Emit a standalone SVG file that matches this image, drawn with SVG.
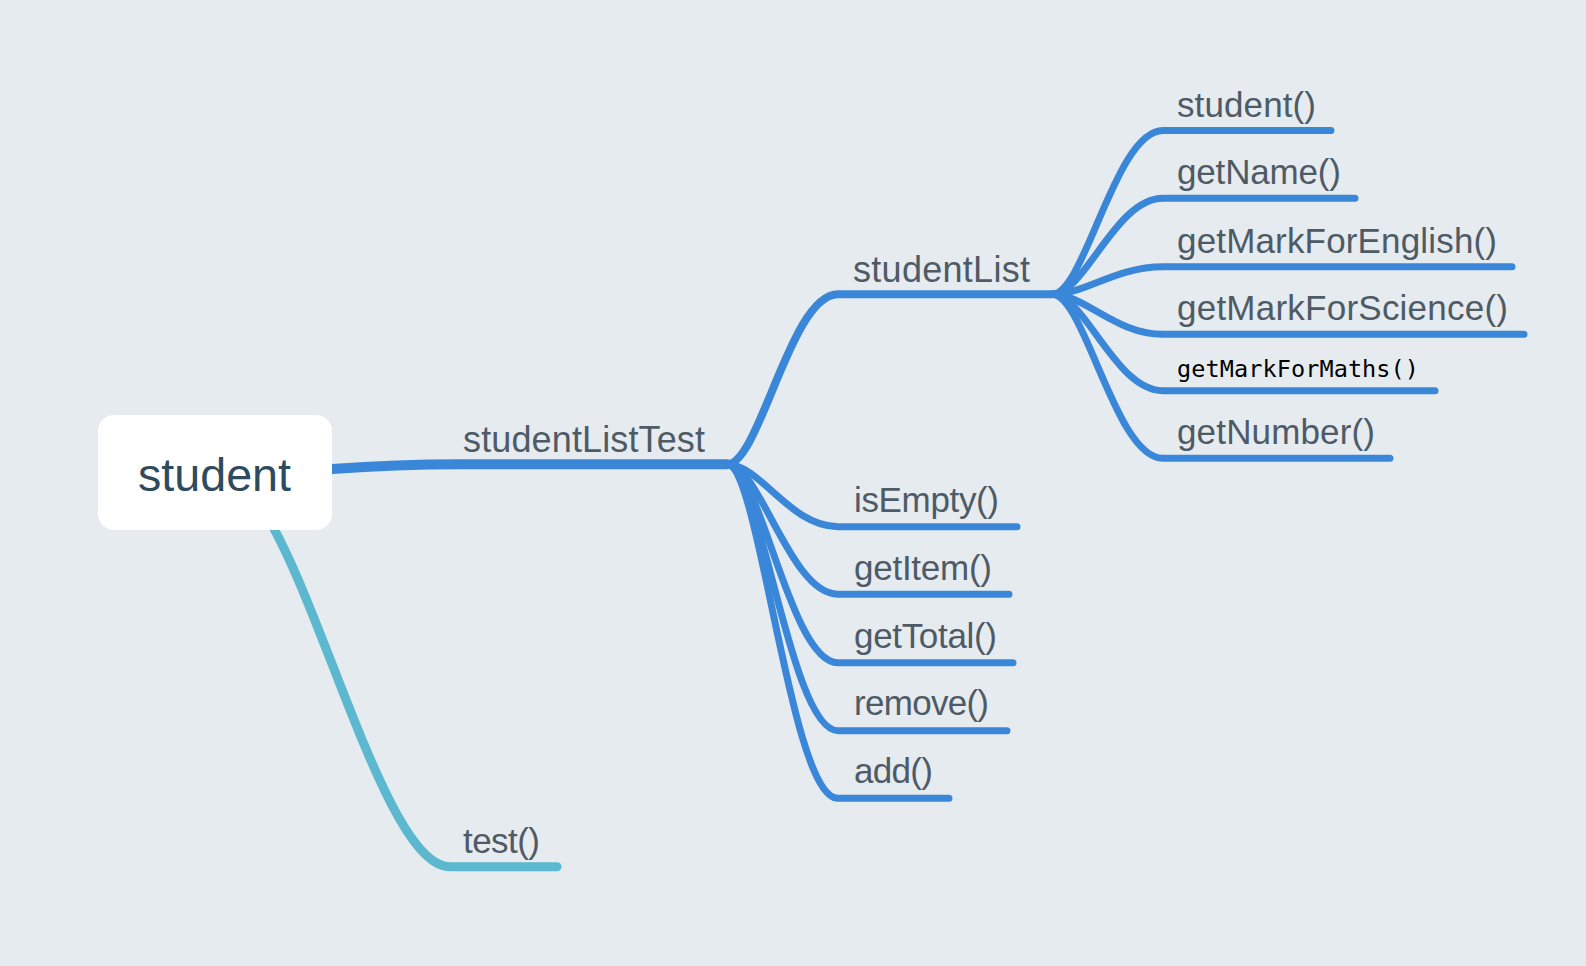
<svg xmlns="http://www.w3.org/2000/svg" width="1586" height="966" viewBox="0 0 1586 966">
<style>
.bg{fill:#E6EBEF}
.c{fill:none;stroke:#3A87D9;stroke-linecap:round;stroke-linejoin:round}
.t{fill:none;stroke:#5BB8CF;stroke-linecap:round;stroke-linejoin:round}
.lbl{font-family:"Liberation Sans",Arial,sans-serif;fill:#4E5B66}
.main{font-size:36px}
.sub{font-size:35px}
.mono{font-family:"DejaVu Sans Mono","Liberation Mono",monospace;font-size:23.5px;fill:#000}
.root{font-family:"Liberation Sans",Arial,sans-serif;font-size:47px;fill:#2E4B5D}
</style>
<rect class="bg" x="0" y="0" width="1586" height="966"/>
<g id="connectors">
  <path class="c" stroke-width="10" d="M 332 469 C 380 465.5, 410 464.3, 460 464.3 L 727 464.3"/>
  <path class="t" stroke-width="9" d="M 272 525 C 330 630, 390 866.7, 450 866.7 L 557 866.7"/>
  <path class="c" stroke-width="8" d="M 727 464.3 C 760 464.3, 790 294.3, 838 294.3 L 1052 294.3"/>
  <path class="c" stroke-width="7" d="M 727 464.3 C 760 464.3, 790 526.7, 838 526.7 L 1017 526.7"/>
  <path class="c" stroke-width="7" d="M 727 464.3 C 760 464.3, 790 594.3, 838 594.3 L 1009 594.3"/>
  <path class="c" stroke-width="7" d="M 727 464.3 C 760 464.3, 790 662.7, 838 662.7 L 1013 662.7"/>
  <path class="c" stroke-width="7" d="M 727 464.3 C 760 464.3, 790 730.7, 838 730.7 L 1007 730.7"/>
  <path class="c" stroke-width="7" d="M 727 464.3 C 760 464.3, 790 798.3, 838 798.3 L 949 798.3"/>
  <path class="c" stroke-width="7" d="M 1052 294.3 C 1085 294.3, 1115 130.5, 1163 130.5 L 1331 130.5"/>
  <path class="c" stroke-width="7" d="M 1052 294.3 C 1085 294.3, 1115 198.3, 1163 198.3 L 1355 198.3"/>
  <path class="c" stroke-width="7" d="M 1052 294.3 C 1085 294.3, 1115 266.7, 1163 266.7 L 1512 266.7"/>
  <path class="c" stroke-width="7" d="M 1052 294.3 C 1085 294.3, 1115 334.3, 1163 334.3 L 1524 334.3"/>
  <path class="c" stroke-width="7" d="M 1052 294.3 C 1085 294.3, 1115 390.7, 1163 390.7 L 1435 390.7"/>
  <path class="c" stroke-width="7" d="M 1052 294.3 C 1085 294.3, 1115 458.3, 1163 458.3 L 1390 458.3"/>
</g>
<g id="node-student">
  <rect x="98" y="415" width="234" height="115" rx="16" ry="16" fill="#FFFFFF"/>
  <text class="root" x="138" y="491" textLength="153" lengthAdjust="spacingAndGlyphs">student</text>
</g>
<g id="node-studentListTest"><text class="lbl main" x="463" y="452" textLength="242">studentListTest</text></g>
<g id="node-studentList"><text class="lbl main" x="853" y="282" textLength="177">studentList</text></g>
<g id="node-student-ctor"><text class="lbl sub" x="1177" y="116.5" textLength="139">student()</text></g>
<g id="node-getName"><text class="lbl sub" x="1177" y="183.5" textLength="164">getName()</text></g>
<g id="node-getMarkForEnglish"><text class="lbl sub" x="1177" y="252.5" textLength="320">getMarkForEnglish()</text></g>
<g id="node-getMarkForScience"><text class="lbl sub" x="1177" y="319.5" textLength="331">getMarkForScience()</text></g>
<g id="node-getMarkForMaths"><text class="mono" x="1177" y="376.5" textLength="242">getMarkForMaths()</text></g>
<g id="node-getNumber"><text class="lbl sub" x="1177" y="443.5" textLength="198">getNumber()</text></g>
<g id="node-isEmpty"><text class="lbl sub" x="854" y="512" textLength="145">isEmpty()</text></g>
<g id="node-getItem"><text class="lbl sub" x="854" y="579.5" textLength="138">getItem()</text></g>
<g id="node-getTotal"><text class="lbl sub" x="854" y="647.5" textLength="143">getTotal()</text></g>
<g id="node-remove"><text class="lbl sub" x="854" y="715" textLength="135">remove()</text></g>
<g id="node-add"><text class="lbl sub" x="854" y="783" textLength="79">add()</text></g>
<g id="node-test"><text class="lbl sub" x="463" y="853" textLength="77">test()</text></g>
</svg>
